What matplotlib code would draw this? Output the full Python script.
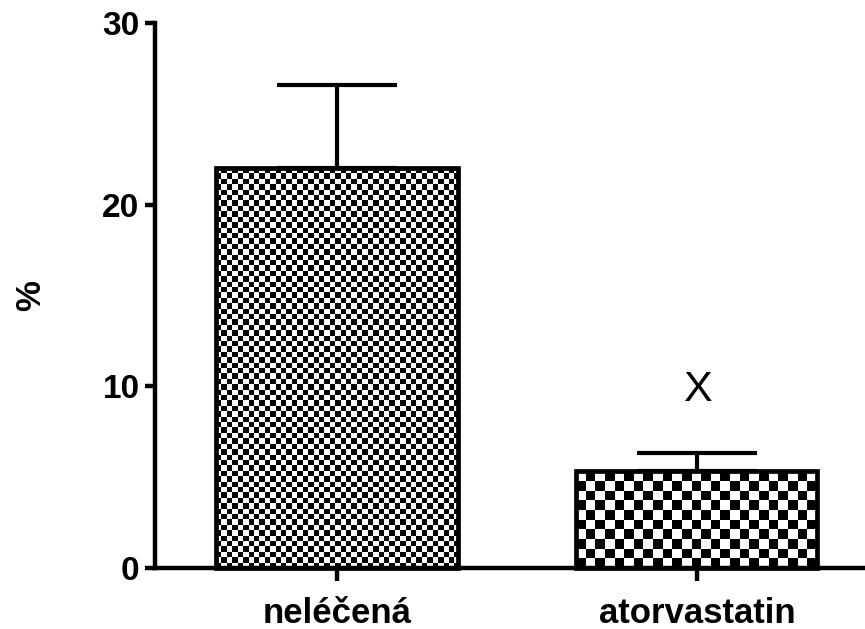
# -*- coding: utf-8 -*-
import matplotlib
matplotlib.use('Agg')
import matplotlib.pyplot as plt
import numpy as np
from matplotlib import rcParams

rcParams['font.family'] = 'sans-serif'
rcParams['font.sans-serif'] = ['Liberation Sans', 'DejaVu Sans']
rcParams['font.weight'] = 'bold'

# data
groups = ['neléčená', 'atorvastatin']
means = [22.0, 5.35]
sem = [4.6, 1.0]
yticks = [0, 10, 20, 30]
mark = 'X'
mark_y = 9.8
cell_px = [5.4, 9.6]   # checkerboard cell size per bar, in pixels

fig = plt.figure(figsize=(8.65, 6.29), dpi=100)
ax = fig.add_axes([0.179, 0.097, 0.821, 0.8664])

x = np.arange(len(groups))
bar_w = 0.67
bars = ax.bar(x, means, width=bar_w, facecolor='none', edgecolor='black',
              linewidth=3.4, zorder=3, clip_on=False)

ax.set_xlim(-0.506, 1.467)
ax.set_ylim(0, 30)

# checkerboard fill, clipped to each bar
fig.canvas.draw()
px_per_x = ax.transData.transform((1, 0))[0] - ax.transData.transform((0, 0))[0]
px_per_y = ax.transData.transform((0, 1))[1] - ax.transData.transform((0, 0))[1]
for b, c in zip(bars, cell_px):
    x0, w, h = b.get_x(), b.get_width(), b.get_height()
    nx = int(np.ceil(w * px_per_x / c))
    ny = int(np.ceil(h * px_per_y / c))
    ii, jj = np.indices((ny, nx))
    board = ((ii + jj) % 2).astype(float)
    im = ax.imshow(board, cmap='gray', vmin=0, vmax=1, interpolation='nearest',
                   extent=(x0, x0 + nx * c / px_per_x, 0, ny * c / px_per_y),
                   origin='lower', aspect='auto', zorder=2)
    im.set_clip_path(b)

ax.set_xlim(-0.506, 1.467)
ax.set_ylim(0, 30)

# upper error bars only
ax.errorbar(x, means, yerr=[np.zeros(len(sem)), sem], fmt='none', ecolor='black',
            elinewidth=3, capsize=43, capthick=3, zorder=1)

ax.text(x[1], mark_y, mark, ha='center', va='center', fontsize=31,
        fontweight='normal')

ax.spines['top'].set_visible(False)
ax.spines['right'].set_visible(False)
ax.spines['left'].set_linewidth(3.2)
ax.spines['bottom'].set_linewidth(3.2)
ax.spines['bottom'].set_zorder(4)

ax.set_yticks(yticks)
ax.set_xticks(x)
ax.set_xticklabels(groups, fontsize=25)
ax.tick_params(axis='y', labelsize=24, width=3.2, length=7, pad=4)
ax.tick_params(axis='x', width=3.2, length=9, pad=12)

ax.set_ylabel('%', fontsize=25, fontweight='bold', labelpad=40)

plt.savefig('out.png', dpi=100)
